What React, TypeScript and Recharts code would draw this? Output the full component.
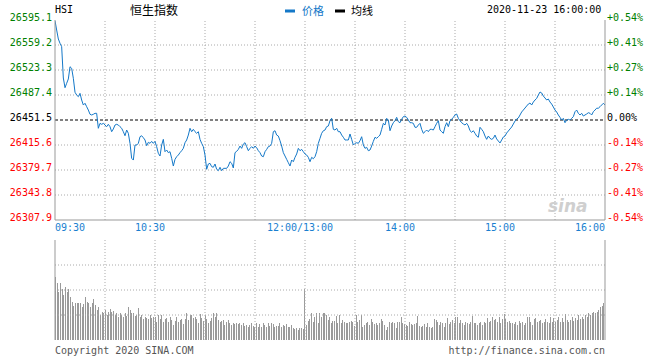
import React from "react";
import {
  LineChart,
  Line,
  XAxis,
  YAxis,
  ReferenceLine,
  BarChart,
  Bar,
} from "recharts";

const prevClose = 26451.5;
const priceTicks = [26595.1, 26559.2, 26523.3, 26487.4, 26451.5, 26415.6, 26379.7, 26343.8, 26307.9];
const pctLabels = ["+0.54%", "+0.41%", "+0.27%", "+0.14%", "0.00%", "-0.14%", "-0.27%", "-0.41%", "-0.54%"];
const timeTicks = [0, 60, 150, 210, 270, 330];
const timeLabels = ["09:30", "10:30", "12:00/13:00", "14:00", "15:00", "16:00"];
const gridMinutes = [30, 60, 90, 120, 150, 180, 210, 240, 270, 300];
const volumeGrid = [25, 50, 75];

// one price per trading minute, 09:30 .. 16:00 (lunch break skipped)
const prices = [
  26594.0, 26580.7, 26567.8, 26561.7, 26556.8, 26511.8, 26497.9, 26504.2, 26510.4, 26528.0,
  26525.7, 26511.4, 26491.3, 26487.4, 26485.0, 26489.8, 26480.2, 26473.0, 26475.5, 26470.6,
  26465.8, 26459.7, 26458.7, 26459.7, 26461.1, 26461.1, 26439.6, 26446.7, 26445.3, 26446.7,
  26444.3, 26441.9, 26445.3, 26441.9, 26434.7, 26438.6, 26444.3, 26445.3, 26444.3, 26441.9,
  26439.6, 26434.7, 26428.9, 26437.1, 26432.4, 26418.0, 26396.5, 26394.0, 26415.6, 26415.6,
  26418.0, 26427.5, 26428.9, 26426.1, 26422.8, 26414.6, 26419.5, 26418.0, 26420.8, 26418.0,
  26420.8, 26413.2, 26403.6, 26399.8, 26415.6, 26423.7, 26406.0, 26408.4, 26404.6, 26406.0,
  26396.5, 26385.4, 26395.0, 26398.8, 26401.2, 26404.6, 26407.4, 26410.8, 26418.9, 26422.8,
  26429.9, 26439.6, 26434.7, 26438.1, 26434.7, 26432.4, 26434.7, 26423.7, 26418.0, 26413.2,
  26401.2, 26380.7, 26388.3, 26389.3, 26384.5, 26383.6, 26388.3, 26380.7, 26378.7, 26383.6,
  26378.7, 26382.1, 26382.1, 26382.1, 26385.4, 26391.6, 26389.3, 26382.6, 26404.6, 26406.5,
  26409.3, 26414.1, 26410.8, 26417.0, 26418.9, 26413.2, 26407.4, 26410.8, 26413.2, 26410.8,
  26414.1, 26411.7, 26407.4, 26404.6, 26399.8, 26398.8, 26406.0, 26409.3, 26413.2, 26414.1,
  26418.0, 26434.7, 26436.1, 26429.9, 26428.5, 26421.8, 26414.1, 26404.6, 26399.8, 26395.0,
  26390.2, 26385.4, 26394.0, 26391.6, 26397.9, 26402.7, 26410.8, 26407.4, 26409.3, 26406.0,
  26402.7, 26401.2, 26397.9, 26391.6, 26397.9, 26395.9, 26398.8, 26406.0, 26418.0, 26425.2,
  26432.4, 26436.1, 26437.1, 26441.9, 26442.9, 26450.5, 26453.9, 26438.1, 26437.1, 26439.6,
  26434.7, 26434.7, 26429.9, 26426.7, 26422.8, 26422.8, 26422.8, 26431.4, 26423.7, 26415.6,
  26418.0, 26418.9, 26418.0, 26421.8, 26427.5, 26415.6, 26410.8, 26412.3, 26407.4, 26408.4,
  26414.1, 26420.8, 26426.7, 26425.2, 26427.5, 26429.9, 26438.1, 26446.7, 26444.3, 26453.9,
  26451.5, 26436.1, 26442.9, 26447.6, 26450.5, 26455.3, 26449.1, 26447.6, 26452.5, 26456.3,
  26457.2, 26455.3, 26451.5, 26447.6, 26447.6, 26446.7, 26441.0, 26441.0, 26444.3, 26446.7,
  26438.1, 26432.4, 26434.7, 26437.1, 26434.7, 26438.1, 26438.1, 26437.1, 26441.9, 26446.7,
  26450.5, 26437.1, 26434.7, 26432.4, 26441.9, 26447.6, 26441.9, 26450.5, 26452.5, 26455.3,
  26458.7, 26460.1, 26453.9, 26450.5, 26447.6, 26445.7, 26444.3, 26446.7, 26442.9, 26436.1,
  26433.8, 26436.1, 26432.4, 26428.5, 26426.7, 26441.0, 26438.1, 26434.7, 26428.5, 26423.7,
  26428.5, 26425.2, 26423.7, 26425.2, 26429.9, 26424.3, 26421.3, 26418.5, 26422.8, 26427.1,
  26428.5, 26432.8, 26435.7, 26438.6, 26441.4, 26445.7, 26450.0, 26452.9, 26454.4, 26458.7,
  26463.0, 26465.8, 26468.7, 26471.6, 26474.4, 26475.9, 26473.0, 26477.3, 26480.2, 26482.5,
  26487.4, 26491.7, 26490.3, 26485.9, 26483.1, 26480.2, 26481.6, 26477.3, 26474.4, 26470.2,
  26465.8, 26463.0, 26458.7, 26455.3, 26451.5, 26453.9, 26447.6, 26451.5, 26452.5, 26451.5,
  26453.9, 26456.3, 26463.4, 26465.8, 26461.1, 26458.7, 26461.1, 26457.2, 26458.7, 26460.1,
  26462.0, 26461.1, 26458.7, 26463.4, 26465.8, 26468.4, 26468.4, 26470.6, 26473.0, 26475.5,
  26473.0,
];

// one volume bar per trading minute (relative units)
const volumes = [
  63.3, 57.3, 48.3, 57.3, 50.7, 45, 53.3, 48.3, 50.7, 43.3,
  38.3, 34, 36.7, 36.7, 37.3, 36.7, 33.3, 36, 43.3, 38.3,
  37.3, 33.3, 36.7, 40.7, 35, 30, 33.3, 25, 28.3, 27.3,
  30, 25, 28.3, 30.7, 28.3, 29.3, 25, 26.7, 23.3, 27.3,
  25, 23.3, 26.7, 24, 33.3, 30, 26.7, 27.3, 24, 25,
  31.7, 23.3, 25, 20.7, 23.3, 21.7, 20.7, 25, 21.7, 22.7,
  23.3, 18.3, 25, 20.7, 25, 18.3, 20.7, 21.7, 18.3, 23.3,
  20, 15, 19.3, 22.7, 18.3, 20, 20.7, 16, 20.7, 27.3,
  20, 25, 25, 21.7, 23.3, 20.7, 17.3, 26, 21.7, 19.3,
  25, 20.7, 17.3, 19.3, 21.7, 26.7, 22.7, 26.7, 20, 18.3,
  19, 20, 15, 18.3, 20, 16.7, 15, 17.3, 16, 17.3,
  16, 17.3, 15, 16.7, 14, 15, 13.3, 15, 17.3, 14,
  13.3, 16.7, 13.3, 16, 13.3, 17.3, 15, 13.3, 16.7, 14,
  16.7, 16, 13.3, 14, 14, 17.3, 13.3, 15, 14, 16,
  13.3, 12.7, 15, 11.7, 10.7, 11.7, 10, 11.7, 11.7, 10.7,
  50.7, 15, 19.3, 20.7, 26.7, 18.3, 22.7, 26.7, 17.3, 27.3,
  22.7, 26.7, 27.3, 25, 20, 23.3, 16.7, 19.3, 19.3, 24,
  17.3, 25, 16.7, 20, 18.3, 17.3, 17.3, 18.3, 19.3, 18.3,
  14, 25, 18.3, 20, 25, 13.3, 15, 16.7, 18.3, 15,
  20.7, 18.3, 16, 17.3, 15, 16.7, 20.7, 19, 15, 10,
  13.3, 18.3, 16.7, 18.3, 17.3, 11.7, 18.3, 18.3, 23.3, 16.7,
  16, 15, 14, 18.3, 16, 15, 16, 16.7, 24, 14,
  13.3, 14, 16, 13.3, 16.7, 13.3, 11.7, 13.3, 20.7, 20,
  18.3, 15, 18.3, 16.7, 13.3, 16.7, 21.7, 16, 18.3, 20,
  17.3, 23.3, 23.3, 16.7, 20, 16.7, 15, 18.3, 16.7, 16,
  18.3, 24, 17.3, 16.7, 15, 16.7, 18.3, 15, 18.3, 16.7,
  21.7, 18.3, 19.3, 23.3, 20, 20.7, 18.3, 22.7, 17.3, 20.7,
  25.7, 20.7, 18.3, 19.3, 16.7, 17.3, 16, 18.3, 15, 19.3,
  16.7, 18.3, 15, 17.3, 22.7, 23.3, 18.3, 15, 20.7, 21.7,
  18.3, 19.3, 20, 16.7, 18.3, 20.7, 18.3, 16.7, 22.7, 18.3,
  21.7, 18.3, 20, 23.3, 18.3, 21.7, 18.3, 26, 20, 18.3,
  20, 22.7, 19.3, 21.7, 20, 25, 20.7, 22.7, 20.7, 25,
  23.3, 26.7, 25, 26.7, 28.3, 27.3, 28.3, 30, 32.7, 34,
  36.7,
];

const priceData = prices.map((p, i) => ({ m: i, price: p }));
const volumeData = volumes.map((v, i) => ({ m: i, vol: v }));

const MONO = "'DejaVu Sans Mono', monospace";
const CJK = "'Noto Sans CJK SC', sans-serif";
const GREEN = "#008000";
const RED = "#ff0000";
const BLUE = "#1a7fd0";
const LINE_BLUE = "#1478c8";
const BORDER = "#999999";
const GRID = "#aaaaaa";

const colorFor = (v: number) => (v > prevClose ? GREEN : v < prevClose ? RED : "#000");

const LeftTick = (props: any) => {
  const { x, y, payload } = props;
  const v = payload.value as number;
  return (
    <text x={x - 3} y={y + 0.5} textAnchor="end" fontFamily={MONO} fontSize={10} fill={colorFor(v)}>
      {v.toFixed(1)}
    </text>
  );
};

const RightTick = (props: any) => {
  const { x, y, payload } = props;
  const v = payload.value as number;
  const idx = priceTicks.indexOf(v);
  return (
    <text x={x + 2} y={y + 0.5} textAnchor="start" fontFamily={MONO} fontSize={10} fill={colorFor(v)}>
      {pctLabels[idx]}
    </text>
  );
};

const TimeTick = (props: any) => {
  const { x, y, payload } = props;
  const idx = timeTicks.indexOf(payload.value);
  const last = timeTicks.length - 1;
  const anchor = idx === 0 ? "start" : idx === last ? "end" : "middle";
  const tx = idx === 0 || idx === last ? x : x - 5;
  return (
    <text x={tx} y={y + 10.5} textAnchor={anchor} fontFamily={MONO} fontSize={10} fill={BLUE}>
      {timeLabels[idx]}
    </text>
  );
};

const VolBar = (props: any) => {
  const { x, y, width, height } = props;
  if (!height || height <= 0) return null;
  return <rect x={x} y={y} width={width} height={height} fill="#9a9a9a" shapeRendering="crispEdges" />;
};

export default function App() {
  return (
    <div style={{ position: "absolute", left: 0, top: 0, width: 660, height: 360, background: "#fff" }}>
      <div style={{ position: "absolute", left: 0, top: 0 }}>
        <LineChart width={660} height={240} data={priceData} margin={{ top: 20, right: 0, bottom: 0, left: 0 }}>
          <XAxis
            xAxisId="b"
            dataKey="m"
            type="number"
            domain={[0, 330]}
            ticks={timeTicks}
            interval={0}
            height={20}
            tickSize={0}
            tickMargin={0}
            tickLine={false}
            axisLine={{ stroke: BORDER }}
            tick={TimeTick}
            allowDataOverflow
          />
          <XAxis
            xAxisId="t"
            orientation="top"
            type="number"
            domain={[0, 330]}
            height={0}
            tick={false}
            tickLine={false}
            axisLine={{ stroke: BORDER }}
          />
          <YAxis
            yAxisId="l"
            orientation="left"
            width={55}
            type="number"
            domain={[26307.9, 26595.1]}
            ticks={priceTicks}
            interval={0}
            tickSize={0}
            tickMargin={0}
            tickLine={false}
            axisLine={{ stroke: BORDER }}
            tick={LeftTick}
            allowDataOverflow
          />
          <YAxis
            yAxisId="r"
            orientation="right"
            width={55}
            type="number"
            domain={[26307.9, 26595.1]}
            ticks={priceTicks}
            interval={0}
            tickSize={0}
            tickMargin={0}
            tickLine={false}
            axisLine={{ stroke: BORDER }}
            tick={RightTick}
            allowDataOverflow
          />
          {priceTicks
            .filter((t) => t !== prevClose && t !== priceTicks[0] && t !== priceTicks[priceTicks.length - 1])
            .map((t) => (
              <ReferenceLine key={"h" + t} xAxisId="b" yAxisId="l" y={t} stroke={GRID} strokeDasharray="1 2" />
            ))}
          {gridMinutes.map((m) => (
            <ReferenceLine key={"v" + m} xAxisId="b" yAxisId="l" x={m} stroke={GRID} strokeDasharray="1 2" />
          ))}
          <ReferenceLine xAxisId="b" yAxisId="l" y={prevClose} stroke="#000" strokeDasharray="3 2" />
          <Line
            xAxisId="b"
            yAxisId="l"
            type="linear"
            dataKey="price"
            stroke={LINE_BLUE}
            strokeWidth={1}
            dot={false}
            activeDot={false}
            isAnimationActive={false}
          />
        </LineChart>
      </div>

      <div style={{ position: "absolute", left: 0, top: 240 }}>
        <BarChart
          width={660}
          height={102}
          data={volumeData}
          margin={{ top: 0, right: 0, bottom: 2, left: 0 }}
          barCategoryGap={0}
        >
          <XAxis xAxisId="c" dataKey="m" type="category" hide />
          <XAxis
            xAxisId="g"
            type="number"
            domain={[0, 330]}
            height={0}
            tick={false}
            tickLine={false}
            axisLine={{ stroke: BORDER }}
          />
          <XAxis
            xAxisId="gt"
            orientation="top"
            type="number"
            domain={[0, 330]}
            height={0}
            tick={false}
            tickLine={false}
            axisLine={{ stroke: BORDER }}
          />
          <YAxis yAxisId="v" width={55} domain={[0, 100]} tick={false} tickLine={false} axisLine={{ stroke: BORDER }} allowDataOverflow />
          <YAxis yAxisId="vr" orientation="right" width={55} domain={[0, 100]} tick={false} tickLine={false} axisLine={{ stroke: BORDER }} />
          {volumeGrid.map((g) => (
            <ReferenceLine key={"vg" + g} xAxisId="g" yAxisId="v" y={g} stroke={GRID} strokeDasharray="1 2" />
          ))}
          {gridMinutes.map((m) => (
            <ReferenceLine key={"vv" + m} xAxisId="g" yAxisId="v" x={m} stroke={GRID} strokeDasharray="1 2" />
          ))}
          <Bar xAxisId="c" yAxisId="v" dataKey="vol" barSize={1} fill="#9a9a9a" shape={VolBar} isAnimationActive={false} />
        </BarChart>
      </div>

      <svg width={660} height={360} style={{ position: "absolute", left: 0, top: 0, pointerEvents: "none" }}>
        <text x={55} y={12.7} fontFamily={MONO} fontSize={10} fill="#000">HSI</text>
        <text x={130} y={14.5} fontFamily={CJK} fontSize={12} fill="#000">恒生指数</text>
        <rect x={285} y={9.5} width={10} height={3} fill={LINE_BLUE} />
        <text x={302} y={14.5} fontFamily={CJK} fontSize={11} fill={LINE_BLUE}>价格</text>
        <rect x={335} y={9.5} width={10} height={3} fill="#000" />
        <text x={351} y={14.5} fontFamily={CJK} fontSize={11} fill="#000">均线</text>
        <text x={487} y={12.7} fontFamily={MONO} fontSize={10} fill="#000">2020-11-23 16:00:00</text>
        <text x={548} y={212} fontFamily="'DejaVu Sans', sans-serif" fontSize={17} fontStyle="italic" fontWeight="bold" fill="#cfcfcf">sina</text>
        <text x={55} y={353.5} fontFamily={MONO} fontSize={10} fill="#555">Copyright 2020 SINA.COM</text>
        <text x={605} y={353.5} textAnchor="end" fontFamily={MONO} fontSize={10} fill="#555">http://finance.sina.com.cn</text>
      </svg>
    </div>
  );
}
